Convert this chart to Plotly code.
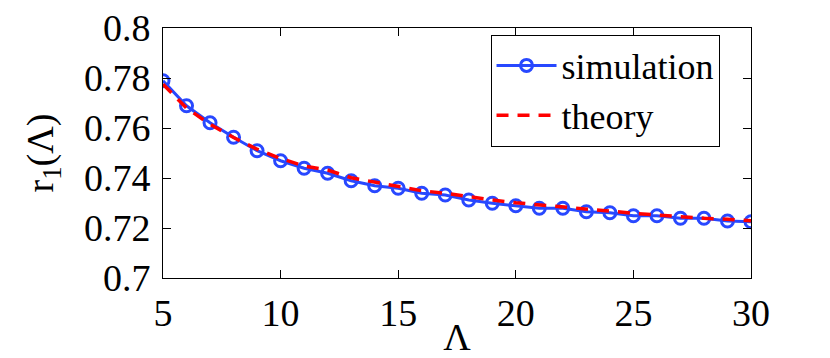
import plotly.graph_objects as go

# Lambda values and r1 estimates
lam = list(range(5, 31))
simulation = [0.7789, 0.7689, 0.7621, 0.7563, 0.7509, 0.7469, 0.7439, 0.7419,
              0.7389, 0.7369, 0.7359, 0.7339, 0.7332, 0.7312, 0.7299, 0.7289,
              0.7279, 0.7279, 0.7265, 0.7261, 0.7249, 0.7249, 0.7239, 0.7239,
              0.7228, 0.7225]
theory = [0.7775, 0.7680, 0.7615, 0.7562, 0.7515, 0.7478, 0.7448, 0.7432,
          0.7401, 0.7383, 0.7368, 0.7349, 0.7339, 0.7325, 0.7312, 0.7301,
          0.7292, 0.7285, 0.7275, 0.7265, 0.7259, 0.7252, 0.7245, 0.7239,
          0.7235, 0.7229]

x_ticks = [5, 10, 15, 20, 25, 30]
y_ticks = [0.7, 0.72, 0.74, 0.76, 0.78, 0.8]
y_labels = ["0.7", "0.72", "0.74", "0.76", "0.78", "0.8"]

serif = "Liberation Serif"

fig = go.Figure()
fig.add_trace(go.Scatter(
    x=lam, y=simulation,
    mode='lines+markers',
    name="simulation",
    line=dict(color="#2848ff", width=3),
    marker=dict(symbol="circle-open", size=12, color="#2848ff",
                line=dict(width=3, color="#2848ff"))
))
fig.add_trace(go.Scatter(
    x=lam, y=theory,
    mode='lines',
    name="theory",
    line=dict(color="#ff0000", width=3.5, dash="12px,9px")
))

axis_common = dict(
    showgrid=False, zeroline=False, automargin=False,
    showline=True, linecolor="black", linewidth=1,
    mirror="ticks", ticks="inside", ticklen=8, tickcolor="black",
    ticklabeloverflow="allow",
    tickfont=dict(family=serif, size=38, color="black"),
)

# the page body adds an 8px margin, so the figure is 8px smaller each way
fig.update_layout(
    width=822, height=350,
    margin=dict(l=155, r=79, t=20, b=80),
    paper_bgcolor="white", plot_bgcolor="white",
    font=dict(family=serif, color="black"),
    xaxis=dict(range=[5, 30], tickvals=x_ticks, ticklabelstandoff=1,
               title=dict(text="Λ", font=dict(family=serif, size=38), standoff=6),
               **axis_common),
    yaxis=dict(range=[0.7, 0.8], tickvals=y_ticks, ticktext=y_labels,
               ticklabelstandoff=4,
               title=dict(text="r<sub>1</sub>(Λ)", font=dict(family=serif, size=38), standoff=18),
               **axis_common),
    legend=dict(x=0.557, y=0.974, xanchor="left", yanchor="top",
                bordercolor="black", borderwidth=1, bgcolor="white",
                font=dict(family=serif, size=36), itemwidth=60,
                tracegroupgap=0),
    showlegend=True,
)

fig.write_html("out.html")
